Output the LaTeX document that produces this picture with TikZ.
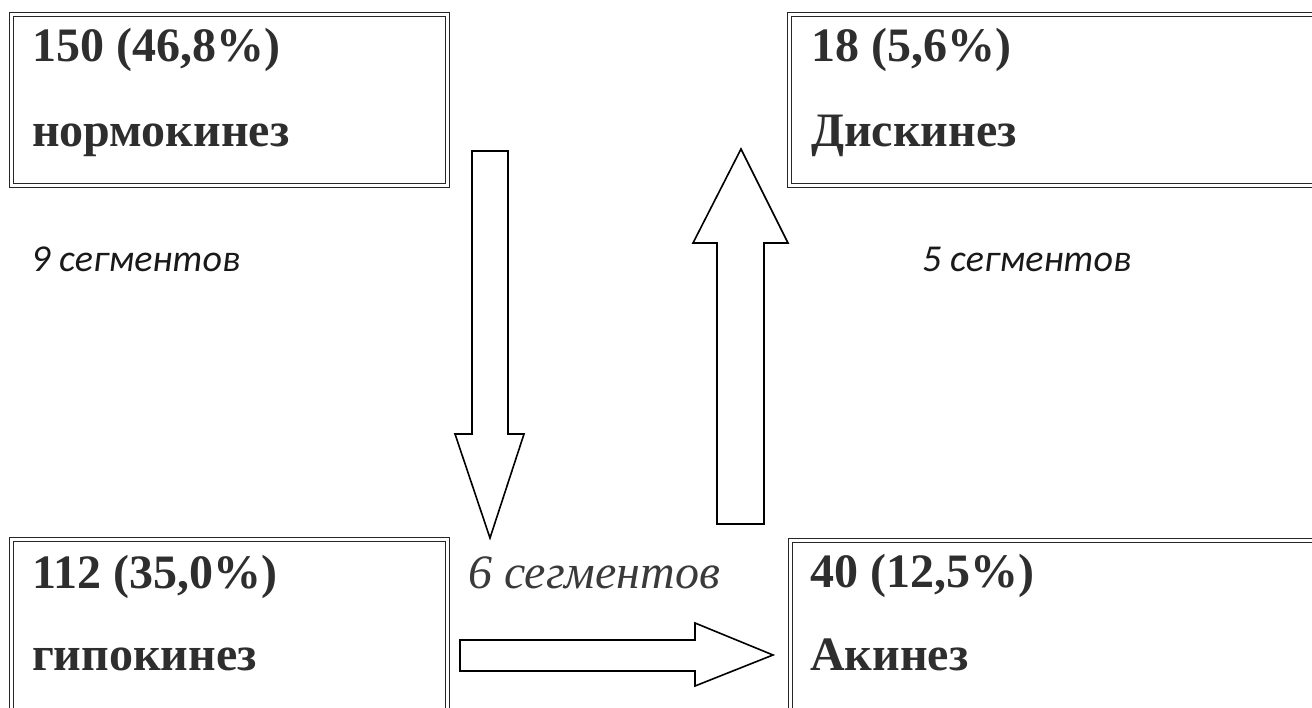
\documentclass[tikz,border=0pt]{standalone}
\usepackage{fontspec}
\setmainfont{Liberation Serif}
\newfontfamily\calib{Carlito}
\definecolor{txt}{HTML}{2E2E2E}
\definecolor{segc}{HTML}{3A3A3A}
\begin{document}
\begin{tikzpicture}[x=1pt,y=-1pt,
  dbox/.style={draw=black!85, double=white, double distance=2.8pt, line width=1.3pt, inner sep=0, outer sep=0, anchor=north west},
  big/.style={font=\fontsize{48}{58}\selectfont\bfseries, text=txt, inner sep=0, anchor=base west},
  seg/.style={font=\fontsize{38}{46}\selectfont\calib\itshape, text=black!90, inner sep=0, anchor=base west},
  segserif/.style={font=\fontsize{48}{56}\selectfont\itshape, text=segc, inner sep=0, anchor=base west},
  barrow/.style={draw=black, line width=1.6pt, fill=white, line join=miter}]
\useasboundingbox (0,0) rectangle (1312,708);
\clip (0,0) rectangle (1312,708);
% boxes
\node[dbox, minimum width=436pt, minimum height=171pt] (norm) at (11.5,14.5) {};
\node[dbox, minimum width=560pt, minimum height=171pt] (dys) at (789.5,14.5) {};
\node[dbox, minimum width=436pt, minimum height=200pt] (hypo) at (11.5,539.5) {};
\node[dbox, minimum width=560pt, minimum height=200pt] (akin) at (790.5,540.5) {};
% texts
\node[big] (t1) at (32,62) {150 (46,8\%)};
\node[big] (t2) at (32,147) {нормокинез};
\node[big] (t3) at (811,62) {18 (5,6\%)};
\node[big] (t4) at (811,147) {Дискинез};
\node[big] (t5) at (32,588) {112 (35,0\%)};
\node[big] (t6) at (32,670) {гипокинез};
\node[big] (t7) at (810,587) {40 (12,5\%)};
\node[big] (t8) at (810,670) {Акинез};
\node[seg] (s9) at (31,272) {9 сегментов};
\node[seg] (s5) at (922,272) {5 сегментов};
\node[segserif] (s6) at (468,588) {6 сегментов};
% block arrows
\draw[barrow] (472,151) -- (508,151) -- (508,434) -- (524,434) -- (490,538) -- (455,434) -- (472,434) -- cycle;
\draw[barrow] (717,524) -- (764,524) -- (764,243) -- (788,243) -- (741,149) -- (693,243) -- (717,243) -- cycle;
\draw[barrow] (460,640) -- (695,640) -- (695,623) -- (773,655) -- (695,686) -- (695,671) -- (460,671) -- cycle;
\end{tikzpicture}
\end{document}
